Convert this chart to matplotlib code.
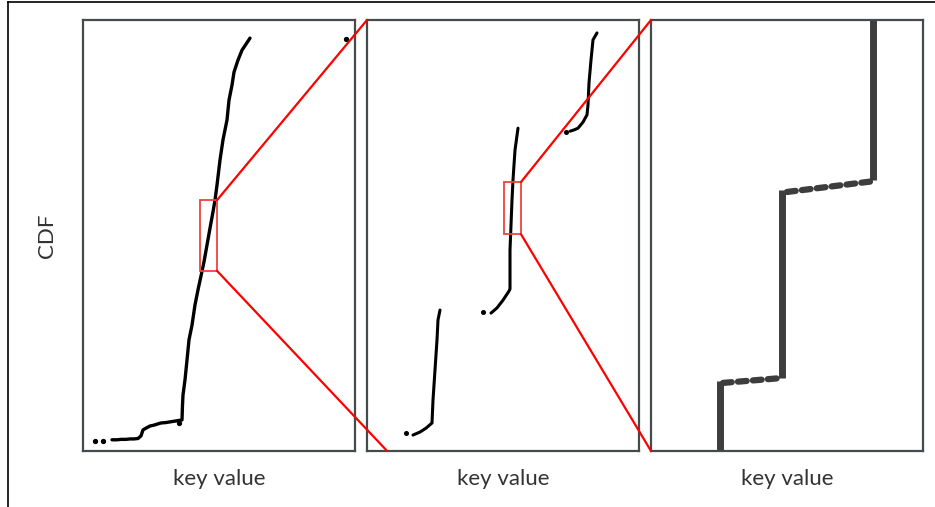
import matplotlib.pyplot as plt
from matplotlib.patches import Rectangle, ConnectionPatch
from matplotlib.lines import Line2D
import numpy as np

# panel 1: whole key range
full_key = [29, 34, 38, 43, 47, 51, 55, 58, 60, 63, 67, 71, 75, 78, 83,
            99, 99.5, 100, 102, 104, 106, 109, 112, 115, 118, 121, 124, 127, 130, 132,
            134, 137, 140, 144, 146, 149, 151, 155, 159, 163, 167]
full_cdf = [0.026, 0.026, 0.027, 0.027, 0.028, 0.028, 0.029, 0.035, 0.049, 0.053,
            0.058, 0.060, 0.063, 0.065, 0.066,
            0.072, 0.107, 0.130, 0.165, 0.211, 0.258, 0.292, 0.339, 0.374, 0.406,
            0.439, 0.478, 0.517, 0.555, 0.582, 0.617, 0.675, 0.722, 0.768, 0.814,
            0.849, 0.879, 0.907, 0.930, 0.944, 0.958]
full_dots_key = [12, 20, 96, 263]
full_dots_cdf = [0.023, 0.024, 0.066, 0.956]

# panel 2: zoom on part of the range
mid_key = [[46, 53, 59, 65, 66, 68, 70, 71, 73],
           [124, 130, 136, 142, 143, 143, 143, 145, 146, 148, 151],
           [203, 207, 211, 216, 220, 221, 222, 224, 226, 230]]
mid_cdf = [[0.037, 0.044, 0.053, 0.065, 0.118, 0.188, 0.258, 0.304, 0.327],
           [0.320, 0.332, 0.350, 0.371, 0.376, 0.420, 0.466, 0.582, 0.629, 0.698, 0.749],
           [0.742, 0.745, 0.749, 0.763, 0.780, 0.803, 0.854, 0.907, 0.954, 0.970]]
mid_dots_key = [39, 116, 199]
mid_dots_cdf = [0.042, 0.323, 0.740]

# panel 3: steps, solid = vertical jumps, dashed = flat parts
step_solid_key = [[69, 69], [131, 131], [222, 222]]
step_solid_cdf = [[0.0, 0.162], [0.170, 0.605], [0.628, 1.0]]
step_flat_key = [[72, 129], [136, 219]]
step_flat_cdf = [[0.158, 0.169], [0.601, 0.625]]

# zoom boxes (key range, cdf range)
box1 = (117, 134, 0.418, 0.582)
box2 = (137, 154, 0.503, 0.624)

W, H = 935, 507
fig = plt.figure(figsize=(W / 100, H / 100), dpi=100)
plt.rcParams['font.family'] = ['Lato', 'DejaVu Sans']

lefts = [83, 367, 651]
axs = []
for lx in lefts:
    a = fig.add_axes([lx / W, (H - 451) / H, 272 / W, 431 / H])
    a.set_xlim(0, 272)
    a.set_ylim(0, 1)
    a.set_xticks([])
    a.set_yticks([])
    for s in a.spines.values():
        s.set_color('#454a4d')
        s.set_linewidth(1.6)
    a.set_xlabel('key value', fontsize=16, color='#333333', labelpad=13)
    axs.append(a)
ax1, ax2, ax3 = axs

ax1.plot(full_key, full_cdf, color='black', lw=2.4, solid_capstyle='round')
ax1.plot(full_dots_key, full_dots_cdf, 'o', color='black', ms=2.8)

for k, c in zip(mid_key, mid_cdf):
    ax2.plot(k, c, color='black', lw=2.2, solid_capstyle='round')
ax2.plot(mid_dots_key, mid_dots_cdf, 'o', color='black', ms=2.6)

for k, c in zip(step_solid_key, step_solid_cdf):
    ax3.plot(k, c, color='#3d3d3d', lw=5, solid_capstyle='butt', clip_on=False)
for k, c in zip(step_flat_key, step_flat_cdf):
    ax3.plot(k, c, color='#3d3d3d', lw=4.5, ls=(0, (1.4, 1.0)),
             dash_capstyle='round')

fig.text(47 / W, 1 - 236 / H, 'CDF', rotation=90, fontsize=16, color='#333333',
         ha='center', va='center')

for a, b in [(ax1, box1), (ax2, box2)]:
    a.add_patch(Rectangle((b[0], b[2]), b[1] - b[0], b[3] - b[2], fill=False,
                          edgecolor='#f04040', lw=1.3, zorder=5))

red_links = [(ax1, box1[1], box1[3], ax2, 0.0, 1.0),
             (ax1, box1[1], box1[2], ax2, 0.074, 0.0),
             (ax2, box2[1], box2[3], ax3, 0.0, 1.0),
             (ax2, box2[1], box2[2], ax3, 0.0, 0.0)]
for a, x, y, b, bx, by in red_links:
    con = ConnectionPatch(xyA=(x, y), coordsA='data', axesA=a,
                          xyB=(bx, by), coordsB='axes fraction', axesB=b,
                          color='#ff0000', lw=1.6, zorder=10)
    fig.add_artist(con)

# outer frame (left and top only)
fig.add_artist(Line2D([8 / W, 8 / W], [0, 1 - 2 / H], color='black', lw=1.2))
fig.add_artist(Line2D([8 / W, 1], [1 - 2 / H, 1 - 2 / H], color='black', lw=1.2))

fig.savefig('out.png', dpi=100)
